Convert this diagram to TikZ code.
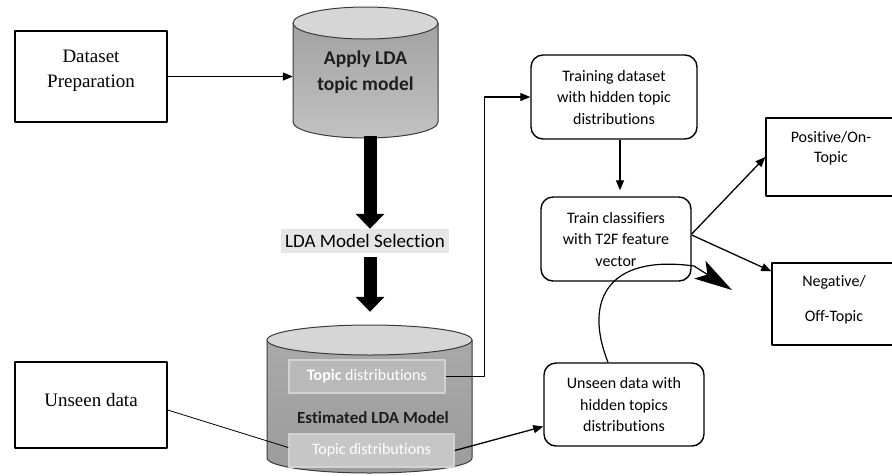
\documentclass[tikz,border=0pt]{standalone}
\usepackage{fontspec}
\setmainfont{Liberation Serif}
\newfontfamily\calfont[Ligatures=NoCommon]{Carlito}
\usetikzlibrary{arrows.meta}
\definecolor{cylline}{HTML}{3A3A3A}
\definecolor{cyltop}{HTML}{D6D6D6}
\definecolor{cylbodyA}{HTML}{A2A2A2}
\definecolor{cylbodyB}{HTML}{C2C2C2}
\definecolor{cylbodyC}{HTML}{A9A9A9}
\definecolor{cylbodyD}{HTML}{9C9C9C}
\definecolor{tdfillA}{HTML}{B9B9B9}
\definecolor{tdfillB}{HTML}{C6C6C6}
\definecolor{tdline}{HTML}{D2D2D2}
\definecolor{selbg}{HTML}{E6E6E6}
\definecolor{cyltext}{HTML}{1E1E1E}
\begin{document}
\begin{tikzpicture}[x=1pt,y=1pt,line join=round,
  serifbox/.style={draw,line width=1.4pt,inner sep=0pt},
  rbox/.style={draw,line width=1.4pt,rounded corners=12pt,inner sep=0pt,align=center,
    font=\calfont\fontsize{16}{21.5}\selectfont},
  pbox/.style={draw,line width=1.4pt,inner sep=0pt},
  lbl/.style={align=center,font=\calfont\fontsize{16}{20}\selectfont},
  tdbox/.style={fill=#1,draw=tdline,line width=1.5pt,inner sep=0pt,text=white,
    font=\calfont\fontsize{16}{19}\selectfont},
  conn/.style={line width=1.3pt,-{Triangle[length=10pt,width=8pt]}},
  bigarrow/.style={line width=13pt,-{Triangle[length=15pt,width=28pt]}},
  cylshape/.style={draw=cylline,line width=1pt}]
\useasboundingbox (0,0) rectangle (892,-475);
\fill[white] (0,0) rectangle (892,-475);

% left boxes
\node[serifbox,minimum width=152pt,minimum height=91pt,
  label={[align=center,font=\fontsize{19}{25}\selectfont,yshift=6pt]center:Dataset\\Preparation}]
  (dp) at (91,-76.5) {};
\node[serifbox,minimum width=152pt,minimum height=86pt,
  label={[font=\fontsize{19}{25}\selectfont,yshift=5pt]center:Unseen data}]
  (ud) at (91,-405) {};

% top cylinder
\path[cylshape,top color=cylbodyA,bottom color=cylbodyB]
  (293,-23) -- (293,-122) arc[start angle=180,end angle=360,x radius=72.5,y radius=16]
  -- (438,-23) -- cycle;
\path[cylshape,fill=cyltop] (365.5,-23) ellipse[x radius=72.5,y radius=16];
\node[minimum width=145pt,minimum height=131pt,inner sep=0pt,align=center,text=cyltext,
  font=\calfont\bfseries\fontsize{19.5}{26}\selectfont] (lda) at (365.5,-72.5)
  {Apply LDA\\topic model};

% selection label
\node[fill=selbg,minimum width=168pt,minimum height=24pt,inner sep=0pt,
  font=\calfont\fontsize{19}{22}\selectfont] (sel) at (365,-241) {LDA Model Selection};

% bottom cylinder
\path[cylshape,top color=cylbodyC,bottom color=cylbodyD]
  (267,-340) -- (267,-458) arc[start angle=180,end angle=360,x radius=102.5,y radius=15]
  -- (472,-340) -- cycle;
\path[cylshape,fill=cyltop] (369.5,-340) ellipse[x radius=102.5,y radius=15];
\node[minimum width=205pt,minimum height=148pt,inner sep=0pt] (est) at (369.5,-399) {};
\node[text=cyltext,font=\calfont\bfseries\fontsize{17}{20}\selectfont] (estlbl) at (373,-418) {Estimated LDA Model};
\node[tdbox=tdfillA,minimum width=156pt,minimum height=33pt] (td1) at (367,-376.5)
  {\textbf{Topic} distributions};
\node[tdbox=tdfillB,minimum width=165pt,minimum height=33pt] (td2) at (371.5,-450.5)
  {Topic distributions};

% thick arrows
\draw[bigarrow] ([xshift=4.5pt,yshift=2pt]lda.south) -- ([xshift=5pt]sel.north);
\draw[bigarrow,shorten <=4pt,shorten >=13pt] ([xshift=5pt]sel.south) -- ([xshift=0.5pt]est.north);

% right boxes
\node[rbox,minimum width=166pt,minimum height=84pt] (train) at (614,-97)
  {Training dataset\\with hidden topic\\distributions};
\node[rbox,minimum width=150pt,minimum height=84pt] (cls) at (616,-239)
  {Train classifiers\\with T2F feature\\vector};
\node[rbox,minimum width=160pt,minimum height=83pt] (uh) at (624,-404.5)
  {Unseen data with\\hidden topics\\distributions};
\node[pbox,minimum width=130pt,minimum height=78pt,
  label={[lbl,yshift=9pt]center:Positive/On-\\Topic}] (pos) at (831,-157) {};
\node[pbox,minimum width=124pt,minimum height=82pt,
  label={[lbl,font=\calfont\fontsize{16}{35}\selectfont,yshift=4pt]center:Negative/\\Off-Topic}] (neg) at (834,-304) {};

% connectors
\draw[conn] (dp.east) -- (lda.west |- dp.east);
\draw[conn] (td1.east) -- ++(39,0) |- (train.west);
\draw[conn,shorten >=6pt] ([xshift=6pt]train.south) -- ([xshift=4pt]cls.north);
\draw[conn] ([yshift=5pt]cls.east) -- (pos.west);
\draw[conn] ([yshift=4pt]cls.east) -- ([yshift=-9pt]neg.north west);
\draw[line width=0.8pt] ([yshift=-5pt]ud.east) -- ([yshift=3pt]td2.west);
\draw[conn] (td2.east) -- ([yshift=-22pt]uh.west);
\coordinate (ctip) at (732,-290);
\draw[line width=1.2pt,-{Stealth[length=38pt,width=21pt,inset=9pt]}]
  ([xshift=-16pt]uh.north) .. controls (584,-302) and (606,-254) .. (694,-266) -- (ctip);
\end{tikzpicture}
\end{document}
